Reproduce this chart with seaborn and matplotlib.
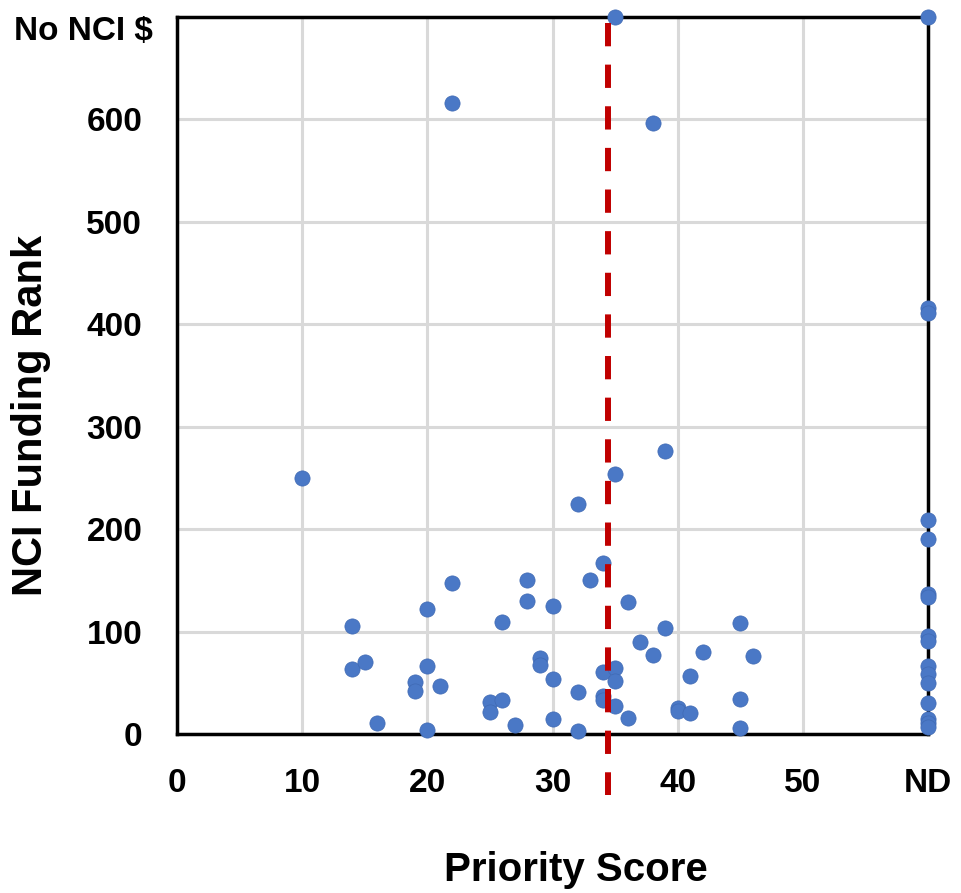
import numpy as np
import pandas as pd
import seaborn as sns
import matplotlib.pyplot as plt

# scored applications: priority score vs NCI funding rank
priority_scores = [10, 14, 14, 15, 16, 19, 19, 20, 20, 20, 21, 22, 22,
                   25, 25, 26, 26, 27, 28, 28, 29, 29, 30, 30, 30,
                   32, 32, 32, 33, 34, 34, 34, 34, 35, 35, 35, 35, 35,
                   36, 36, 37, 38, 38, 39, 39, 40, 40, 41, 41, 42,
                   45, 45, 45, 46]
funding_ranks = [250, 106, 64, 71, 11, 51, 42, 122, 67, 4, 47, 616, 148,
                 32, 22, 110, 34, 9, 151, 130, 75, 68, 125, 54, 15,
                 225, 41, 3, 151, 167, 61, 38, 34, 700, 254, 65, 52, 28,
                 129, 16, 90, 597, 78, 277, 104, 26, 23, 57, 21, 80,
                 109, 35, 6, 77]
# not discussed (ND) applications
nd_ranks = [700, 416, 411, 209, 191, 137, 134, 96, 91, 67, 59, 50, 31, 15, 11, 7]

ND_POS = 60
PAYLINE = 34.4
x_ticks = [0, 10, 20, 30, 40, 50, ND_POS]
x_labels = ['0', '10', '20', '30', '40', '50', 'ND']
y_ticks = [0, 100, 200, 300, 400, 500, 600]

df = pd.DataFrame({
    'score': priority_scores + [ND_POS] * len(nd_ranks),
    'rank': funding_ranks + nd_ranks,
})

sns.set_theme(style='white')
plt.rcParams['font.family'] = ['Liberation Sans', 'DejaVu Sans']
plt.rcParams['font.weight'] = 'bold'

fig = plt.figure(figsize=(9.61, 8.93), dpi=100)
ax = fig.add_axes([0.1842, 0.1775, 0.7815, 0.8035])

sns.scatterplot(data=df, x='score', y='rank', ax=ax, s=120, color='#4a78c6',
                edgecolor='#3f69b3', linewidth=0.5, zorder=4, clip_on=False, legend=False)

# payline marker, runs below the axis like in the original
ax.plot([PAYLINE, PAYLINE], [694, -59], color='#c00000', lw=4.3,
        dashes=(3.9, 3.07), clip_on=False, zorder=5)

ax.set_xlim(0, ND_POS)
ax.set_ylim(0, 700)
ax.set_xticks(x_ticks)
ax.set_xticklabels(x_labels)
ax.set_yticks(y_ticks)
ax.grid(True, color='#d9d9d9', lw=2.2)
ax.set_axisbelow(True)
for side in ['left', 'right', 'top', 'bottom']:
    ax.spines[side].set_visible(True)
    ax.spines[side].set_color('black')
    ax.spines[side].set_linewidth(2.5)

ax.tick_params(axis='both', length=0, labelsize=24, labelcolor='black')
ax.tick_params(axis='y', pad=25)
ax.tick_params(axis='x', pad=24)
for lab in ax.get_xticklabels() + ax.get_yticklabels():
    lab.set_fontweight('bold')
ax.set_xlabel('')
ax.set_ylabel('')

fig.text(153 / 961, 1 - 40 / 893, 'No NCI $', ha='right', va='baseline',
         fontsize=24, fontweight='bold', color='black')
fig.text(576 / 961, 1 - 881 / 893, 'Priority Score', ha='center', va='baseline',
         fontsize=29, fontweight='bold', color='black')
fig.text(31 / 961, 1 - 415 / 893, 'NCI Funding Rank', ha='center', va='center',
         rotation=90, fontsize=30, fontweight='bold', color='black')

fig.savefig('out.png', dpi=100)
